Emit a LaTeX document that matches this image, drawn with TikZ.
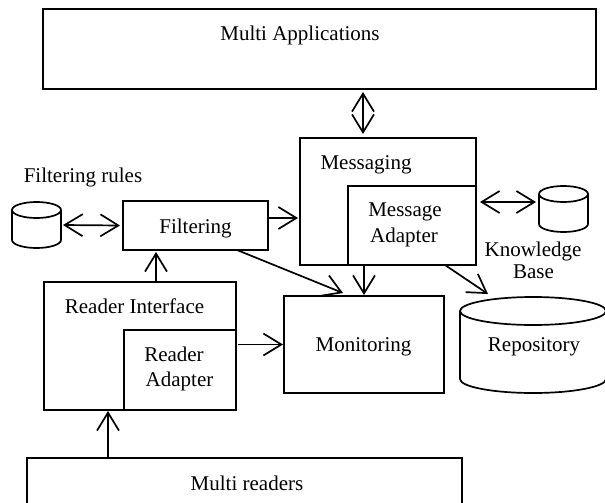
\documentclass[tikz,border=0pt]{standalone}
\usepackage{fontspec}
\setmainfont{Liberation Serif}
\usetikzlibrary{arrows.meta}
\begin{document}
\begin{tikzpicture}[x=1pt,y=-1pt,
  line width=1.7pt,
  box/.style={draw, rectangle, inner sep=0pt, outer sep=0pt},
  ghost/.style={rectangle, inner sep=0pt, outer sep=0pt},
  txt/.style={anchor=base, inner sep=0pt, font=\fontsize{21}{24}\selectfont},
  arr/.style={-{Straight Barb[length=18pt,width=22pt]}},
  darr/.style={{Straight Barb[length=18pt,width=22pt]}-{Straight Barb[length=18pt,width=22pt]}}
]
\useasboundingbox (0,0) rectangle (605,503);
\clip (0,0) rectangle (605,503);

% boxes
\node[box, minimum width=553pt, minimum height=80pt] (apps) at (319.5,49) {};
\node[box, minimum width=176pt, minimum height=127pt] (msg) at (388,201.5) {};
\node[box, minimum width=128pt, minimum height=79pt] (msgad) at (412,225.5) {};
\node[box, minimum width=145pt, minimum height=49pt] (filt) at (195.5,225.5) {};
\node[box, minimum width=192pt, minimum height=128pt] (ri) at (140,346) {};
\node[box, minimum width=112pt, minimum height=80pt] (ra) at (180,370) {};
\node[box, minimum width=160pt, minimum height=97pt] (mon) at (364,344.5) {};
\node[box, minimum width=435pt, minimum height=70pt] (readers) at (244.5,493) {};

% cylinders (named footprints)
\node[ghost, minimum width=49pt, minimum height=46pt] (fr) at (36.5,225) {};
\node[ghost, minimum width=49pt, minimum height=46pt] (kb) at (563.5,209) {};
\node[ghost, minimum width=146pt, minimum height=96pt] (repo) at (533,345) {};

\draw (36.5,210) ellipse [x radius=24.5pt, y radius=8pt];
\draw (12,210) -- (12,240) arc[start angle=180,end angle=360,x radius=24.5pt,y radius=8pt] -- (61,210);

\draw (563.5,194) ellipse [x radius=24.5pt, y radius=8pt];
\draw (539,194) -- (539,224) arc[start angle=180,end angle=360,x radius=24.5pt,y radius=8pt] -- (588,194);

\draw (533,311) ellipse [x radius=73pt, y radius=14pt];
\draw (460,311) -- (460,379) arc[start angle=180,end angle=360,x radius=73pt,y radius=14pt] -- (606,311);

% texts
\node[txt] (tapps) at (300,41) {Multi Applications};
\node[txt] (tmsg) at (366,169) {Messaging};
\node[txt] (tmsgad1) at (405,216.5) {Message};
\node[txt] (tmsgad2) at (404,242) {Adapter};
\node[txt] (tkb1) at (533,256) {Knowledge};
\node[txt] (tkb2) at (533.5,278) {Base};
\node[txt] (tfr) at (83,182) {Filtering rules};
\node[txt] (tfilt) at (195.5,233) {Filtering};
\node[txt] (tri) at (134.5,313) {Reader Interface};
\node[txt] (tra1) at (174,361.5) {Reader};
\node[txt] (tra2) at (179.5,386) {Adapter};
\node[txt] (tmon) at (363.5,351.5) {Monitoring};
\node[txt] (trepo) at (534,351.5) {Repository};
\node[txt] (treaders) at (247,490) {Multi readers};

% connectors
\draw[darr] ([shift={(43.5,3)}]apps.south) -- ([shift={(-25,-4)}]msg.north);
\draw[darr] ([xshift=2pt]fr.east) -- ([xshift=-3pt]filt.west);
\draw[darr] ([shift={(4,-23.5)}]msgad.east) -- ([shift={(-3,-7)}]kb.west);
\draw[arr] ([yshift=7.5pt]filt.east) -- ([shift={(-2,16.5)}]msg.west);
\draw[arr] ([xshift=41.5pt]filt.south) -- ([shift={(-21,-3)}]mon.north);
\draw[arr] ([xshift=16pt]ri.north) -- ([shift={(-39.5,2)}]filt.south);
\draw[arr] ([xshift=2pt]ra.east |- mon.west) -- ([xshift=-1pt]mon.west);
\draw[arr] (mon.north |- msgad.south) -- ([yshift=1pt]mon.north);
\draw[arr] ([xshift=-31pt]msg.south east) -- ([shift={(-45,-3)}]repo.north);
\draw[arr] ([xshift=-136.5pt]readers.north) -- ([shift={(-32,1)}]ri.south);
\end{tikzpicture}
\end{document}
